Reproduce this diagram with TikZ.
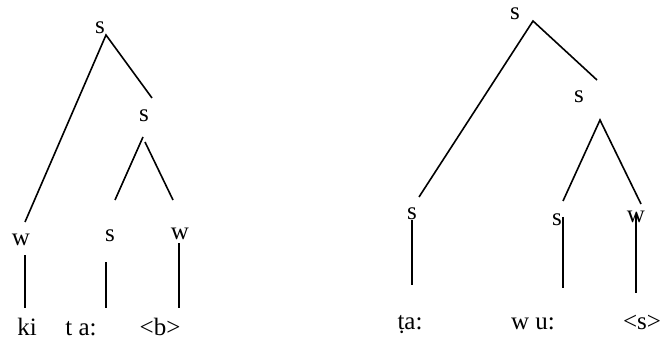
\documentclass[tikz,border=0pt]{standalone}
\usepackage{fontspec}
\setmainfont{Liberation Serif}
\begin{document}
\begin{tikzpicture}[x=1pt,y=-1pt,
  lbl/.style={inner sep=0pt, font=\fontsize{25}{30}\selectfont},
  word/.style={lbl, anchor=base},
  edge/.style={line width=1.6pt}]
\useasboundingbox (0,0) rectangle (661,339);
% left tree
\node[lbl] (ls0) at (100,27.5) {s};
\node[lbl] (ls1) at (144,116) {s};
\node[lbl] (lw2) at (21,240) {w};
\node[lbl] (ls3) at (110,236) {s};
\node[lbl] (lw4) at (180,234) {w};
\node[word] (lki) at (27,335) {ki};
\node[word] (lta) at (81,335) {t a:};
\node[word] (lb) at (160,335) {<b>};
\coordinate (la0) at (106,35);
\coordinate (la1) at (25,222);
\coordinate (la2) at (152,98);
\coordinate (lb0) at (143,137);
\coordinate (lb1) at (115,200);
\coordinate (lc0) at (145,142);
\coordinate (lc1) at (173,200);
\coordinate (lv1a) at (25,255);
\coordinate (lv1b) at (25,308);
\coordinate (lv2a) at (106,262);
\coordinate (lv2b) at (106,308);
\coordinate (lv3a) at (179,243);
\coordinate (lv3b) at (179,308);
\draw[edge] (la1) -- (la0) -- (la2);
\draw[edge] (lb0) -- (lb1);
\draw[edge] (lc0) -- (lc1);
\draw[edge] (lv1a) -- (lv1b);
\draw[edge] (lv2a) -- (lv2b);
\draw[edge] (lv3a) -- (lv3b);
% right tree
\node[lbl] (rs0) at (515,13.5) {s};
\node[lbl] (rs1) at (579,97) {s};
\node[lbl] (rs2) at (412,214) {s};
\node[lbl] (rs3) at (557,220) {s};
\node[lbl] (rw4) at (636,217) {w};
\node[word] (rta) at (410,329) {ṭa:};
\node[word] (rwu) at (533,329) {w u:};
\node[word] (rs) at (642,329) {<s>};
\coordinate (ra0) at (533,21);
\coordinate (ra1) at (419,197);
\coordinate (ra2) at (597,80);
\coordinate (rb0) at (600,120);
\coordinate (rb1) at (563,201);
\coordinate (rb2) at (641,204);
\coordinate (rv1a) at (412,220);
\coordinate (rv1b) at (412,285);
\coordinate (rv2a) at (563,217);
\coordinate (rv2b) at (563,288);
\coordinate (rv3a) at (636,215);
\coordinate (rv3b) at (636,293);
\draw[edge] (ra1) -- (ra0) -- (ra2);
\draw[edge] (rb1) -- (rb0) -- (rb2);
\draw[edge] (rv1a) -- (rv1b);
\draw[edge] (rv2a) -- (rv2b);
\draw[edge] (rv3a) -- (rv3b);
\end{tikzpicture}
\end{document}
